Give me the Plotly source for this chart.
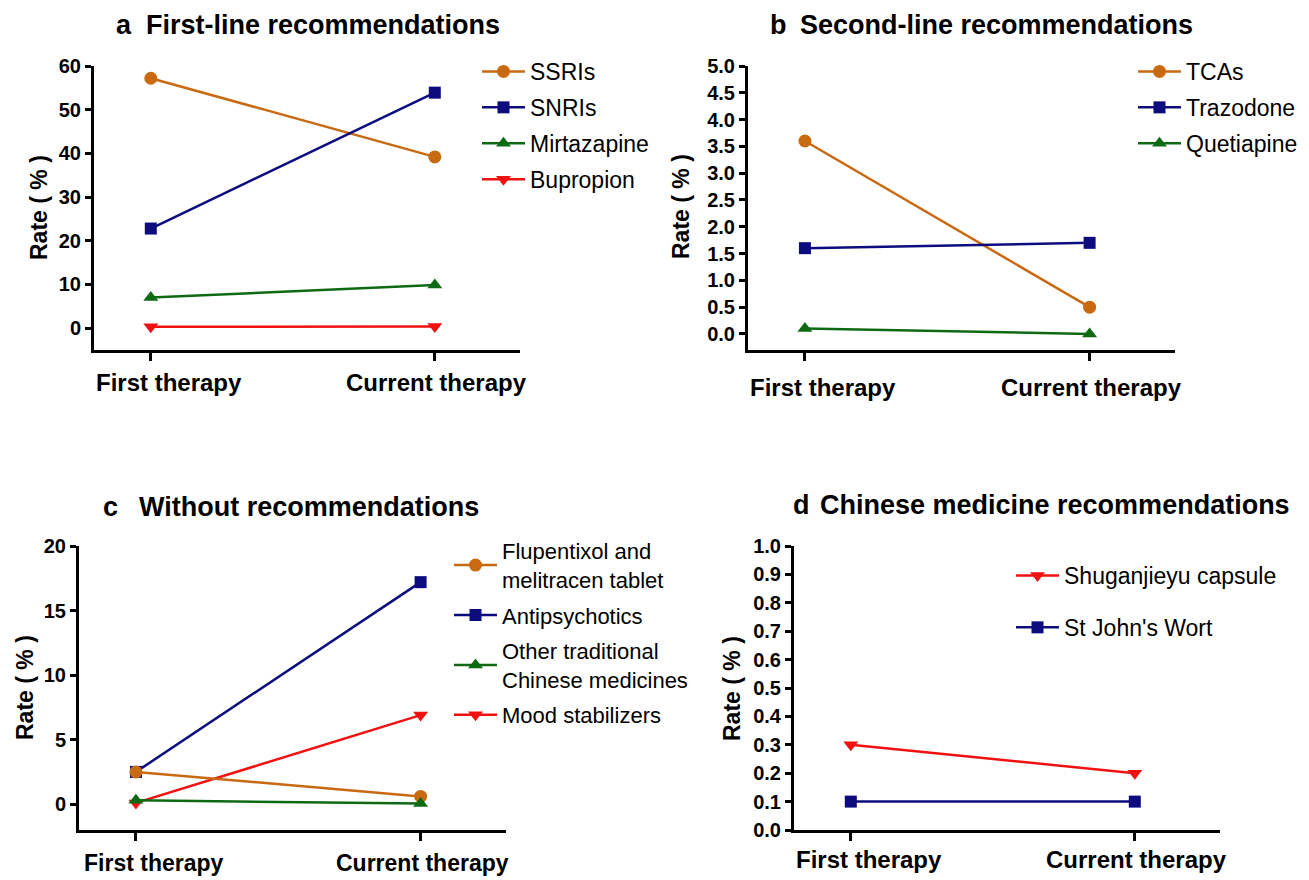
import plotly.graph_objects as go

# ---------------- data ----------------
categories = ["First therapy", "Current therapy"]

a_series = ["SSRIs", "SNRIs", "Mirtazapine", "Bupropion"]
a_first = [57.2, 22.8, 7.0, 0.3]
a_current = [39.2, 53.9, 9.9, 0.4]

b_series = ["TCAs", "Trazodone", "Quetiapine"]
b_first = [3.6, 1.6, 0.1]
b_current = [0.5, 1.7, 0.0]

c_series = ["Flupentixol and<br>melitracen tablet", "Antipsychotics",
            "Other traditional<br>Chinese medicines", "Mood stabilizers"]
c_first = [2.5, 2.5, 0.3, 0.1]
c_current = [0.6, 17.2, 0.05, 6.9]

d_series = ["Shuganjieyu capsule", "St John's Wort"]
d_first = [0.3, 0.1]
d_current = [0.2, 0.1]

panel_titles = [("a", "First-line recommendations"), ("b", "Second-line recommendations"),
                ("c", "Without recommendations"), ("d", "Chinese medicine recommendations")]
y_title = "Rate ( % )"

# ---------------- styles ----------------
ORANGE = "#C96A12"
NAVY = "#0C0C7E"
GREEN = "#0D6A12"
RED = "#F21111"
FONT = "Liberation Sans, Arial, sans-serif"

W, H = 1309, 880

def px_x(p):
    return p / W

def px_y(p):
    return (H - p) / H

styles_a = [(ORANGE, "circle"), (NAVY, "square"), (GREEN, "triangle-up"), (RED, "triangle-down")]
styles_b = [(ORANGE, "circle"), (NAVY, "square"), (GREEN, "triangle-up")]
styles_c = [(ORANGE, "circle"), (NAVY, "square"), (GREEN, "triangle-up"), (RED, "triangle-down")]
styles_d = [(RED, "triangle-down"), (NAVY, "square")]

xs = list(range(len(categories)))

fig = go.Figure()

def add_panel(names, first, current, styles, xa, ya, legend, order=None):
    idx = order if order is not None else list(range(len(names)))
    for i in idx:
        color, sym = styles[i]
        fig.add_trace(go.Scatter(
            x=xs, y=[first[i], current[i]], name=names[i],
            mode="lines+markers", xaxis=xa, yaxis=ya,
            line=dict(color=color, width=2.5),
            marker=dict(color=color, symbol=sym, size=13 if sym != "square" else 12),
            legend=legend, legendgroup=legend + "g" + str(i), legendrank=i + 1,
            showlegend=True,
        ))

add_panel(a_series, a_first, a_current, styles_a, "x", "y", "legend")
add_panel(b_series, b_first, b_current, styles_b, "x2", "y2", "legend2")
add_panel(c_series, c_first, c_current, styles_c, "x3", "y3", "legend3", order=[1, 3, 0, 2])
add_panel(d_series, d_first, d_current, styles_d, "x4", "y4", "legend4")

# ---------------- axes ----------------
panels = [
    ("xaxis", "yaxis", 94, 520, 66, 350, [-5, 60], 10, None),
    ("xaxis2", "yaxis2", 748, 1175, 66, 350, [-0.3, 5.0], 0.5, ".1f"),
    ("xaxis3", "yaxis3", 79, 506, 546, 830, [-2, 20], 5, None),
    ("xaxis4", "yaxis4", 794, 1220, 546, 830, [0, 1.0], 0.1, ".1f"),
]

layout = {}
for k, (xk, yk, xl, xr, yt, yb, yr, dt, fmt) in enumerate(panels):
    anchor_y = "y" if k == 0 else "y%d" % (k + 1)
    anchor_x = "x" if k == 0 else "x%d" % (k + 1)
    layout[xk] = dict(
        domain=[px_x(xl), px_x(xr)], anchor=anchor_y, range=[-0.2, 1.3],
        tickvals=xs, showticklabels=False, ticks="outside", ticklen=8, tickwidth=2.5,
        tickcolor="black", showline=True, linewidth=3, linecolor="black",
        showgrid=False, zeroline=False, fixedrange=True, automargin=False,
    )
    yd = dict(
        domain=[px_y(yb), px_y(yt)], anchor=anchor_x, range=yr,
        tick0=0, dtick=dt, ticks="outside", ticklen=6, tickwidth=2.5, tickcolor="black",
        showline=True, linewidth=3, linecolor="black", showgrid=False, zeroline=False,
        tickfont=dict(family=FONT, size=20, color="black", weight="bold"),
        fixedrange=True, automargin=False,
    )
    if fmt:
        yd["tickformat"] = fmt
    layout[yk] = yd

fig.update_layout(**layout)

# ---------------- legends ----------------
def legend_cfg(xpx, ypx, size, gap):
    return dict(
        x=px_x(xpx), y=px_y(ypx), xanchor="left", yanchor="top",
        bgcolor="rgba(0,0,0,0)", font=dict(family=FONT, size=size, color="black"),
        tracegroupgap=gap, itemwidth=43, traceorder="grouped",
    )

fig.update_layout(
    legend=legend_cfg(477, 50, 23, 3),
    legend2=legend_cfg(1133, 50, 23, 3),
    legend3=legend_cfg(449, 530, 22, 4),
    legend4=legend_cfg(1011, 554, 23, 19),
)

# ---------------- annotations (titles, axis titles, category labels) ----------------
ann = []
title_pos = [(114, 144, 25), (768, 798, 25), (101, 137, 507), (791, 818, 505)]
for (letter, text), (lx, tx, cy) in zip(panel_titles, title_pos):
    ann.append(dict(text="<b>%s</b>" % letter, x=px_x(lx), y=px_y(cy), xref="paper", yref="paper",
                    xanchor="left", yanchor="middle", showarrow=False,
                    font=dict(family=FONT, size=27, color="black")))
    ann.append(dict(text="<b>%s</b>" % text, x=px_x(tx), y=px_y(cy), xref="paper", yref="paper",
                    xanchor="left", yanchor="middle", showarrow=False,
                    font=dict(family=FONT, size=27, color="black")))

ytitle_pos = [(39, 208), (681, 207), (25, 688), (732, 688)]
for (cx, cy) in ytitle_pos:
    ann.append(dict(text="<b>%s</b>" % y_title, x=px_x(cx), y=px_y(cy), xref="paper", yref="paper",
                    xanchor="center", yanchor="middle", textangle=-90, showarrow=False,
                    font=dict(family=FONT, size=23, color="black")))

xlabel_y = [383, 387, 863, 859]
xlabel_size = [24, 24, 23, 24]
xlabel_shift = [18, 2]
xrefs = ["x", "x2", "x3", "x4"]
for k in range(4):
    for j, cat in enumerate(categories):
        ann.append(dict(text="<b>%s</b>" % cat, x=xs[j], y=px_y(xlabel_y[k]), xref=xrefs[k], yref="paper",
                        xanchor="center", yanchor="middle", xshift=xlabel_shift[j], showarrow=False,
                        font=dict(family=FONT, size=xlabel_size[k], color="black")))

fig.update_layout(
    annotations=ann,
    width=W, height=H, margin=dict(l=0, r=0, t=0, b=0, pad=0, autoexpand=False),
    paper_bgcolor="white", plot_bgcolor="white",
    font=dict(family=FONT, color="black"),
)

fig.write_html(
    "out.html",
    config={"displayModeBar": False},
    post_script="document.body.style.margin='0';document.body.style.overflow='hidden';",
)
